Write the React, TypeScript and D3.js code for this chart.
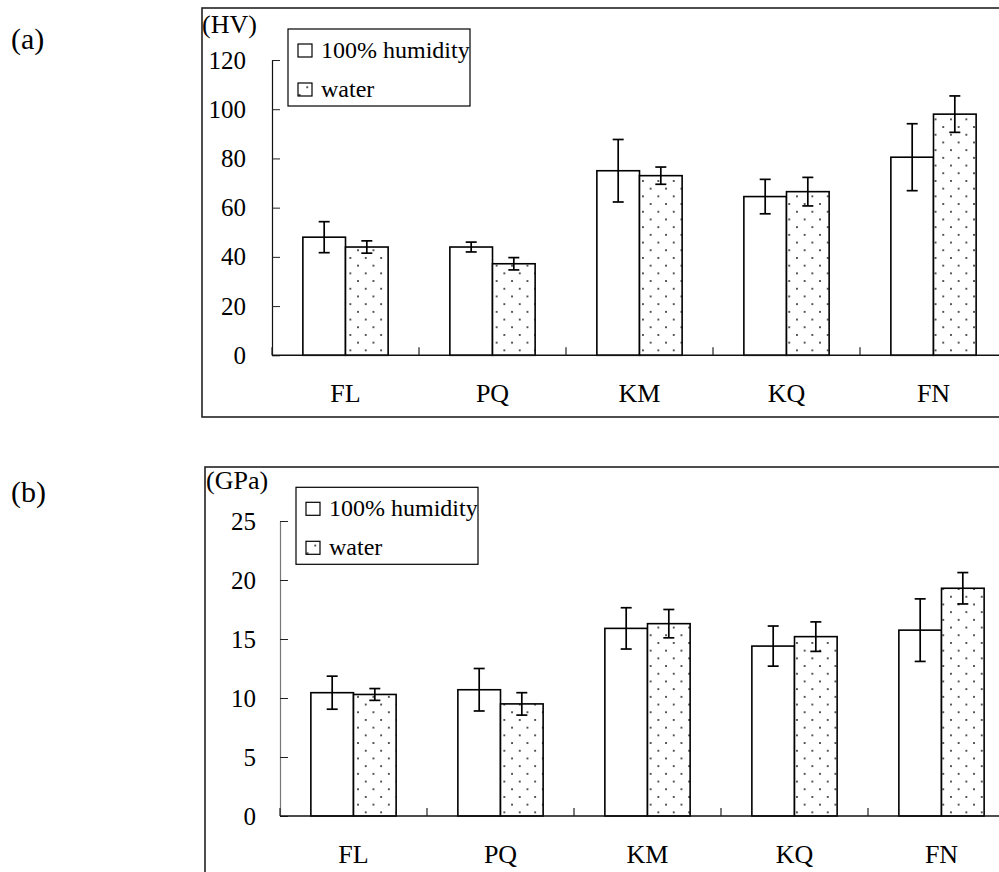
import React, { useRef, useEffect } from "react";
import * as d3 from "d3";

// categories + series
const categories = ["FL", "PQ", "KM", "KQ", "FN"];
const seriesNames = ["100% humidity", "water"];

// (a) hardness, HV
const hvHumidity = [48, 44, 75, 64.5, 80.5];
const hvHumidityErr = [6.3, 2, 12.7, 7, 13.6];
const hvWater = [44, 37.2, 73, 66.5, 98];
const hvWaterErr = [2.5, 2.5, 3.5, 5.8, 7.4];
const hvTicks = [0, 20, 40, 60, 80, 100, 120];

// (b) modulus, GPa
const gpaHumidity = [10.45, 10.7, 15.9, 14.4, 15.75];
const gpaHumidityErr = [1.4, 1.8, 1.75, 1.7, 2.65];
const gpaWater = [10.3, 9.5, 16.3, 15.2, 19.3];
const gpaWaterErr = [0.5, 0.95, 1.2, 1.25, 1.33];
const gpaTicks = [0, 5, 10, 15, 20, 25];

const FONT = "'Liberation Serif', 'Times New Roman', serif";

function App() {
    const svgRef = useRef<SVGSVGElement>(null);

    useEffect(() => {
        const svg = d3.select(svgRef.current);
        svg.selectAll("*").remove();

        // dotted fill like the old excel 5% pattern
        const pat = svg.append("defs").append("pattern")
            .attr("id", "dots")
            .attr("patternUnits", "userSpaceOnUse")
            .attr("width", 15.4)
            .attr("height", 15.4);
        pat.append("rect").attr("width", 15.4).attr("height", 15.4).attr("fill", "#fff");
        pat.append("rect").attr("x", 3).attr("y", 3).attr("width", 1.7).attr("height", 1.7).attr("fill", "#222");
        pat.append("rect").attr("x", 10.7).attr("y", 10.7).attr("width", 1.7).attr("height", 1.7).attr("fill", "#222");

        const panels = [
            {
                tag: "(a)", tagY: 49, unit: "(HV)", unitX: 202, unitY: 33,
                hum: hvHumidity, humErr: hvHumidityErr, wat: hvWater, watErr: hvWaterErr,
                ticks: hvTicks, max: 120,
                frameX: 202, frameY: 8, frameB: 417,
                axisX: 272, y0: 355.3, yTop: 60, pad: 26, axisColor: "#111",
                legX: 288, legY: 29
            },
            {
                tag: "(b)", tagY: 502, unit: "(GPa)", unitX: 206, unitY: 489,
                hum: gpaHumidity, humErr: gpaHumidityErr, wat: gpaWater, watErr: gpaWaterErr,
                ticks: gpaTicks, max: 25,
                frameX: 205, frameY: 467, frameB: 990,
                axisX: 280, y0: 816, yTop: 521, pad: 24, axisColor: "#777",
                legX: 296, legY: 487.3
            }
        ];

        const step = 147;

        panels.forEach(p => {
            const g = svg.append("g");

            // outer frame (runs off the right edge of the picture)
            g.append("rect")
                .attr("x", p.frameX).attr("y", p.frameY)
                .attr("width", 900).attr("height", p.frameB - p.frameY)
                .attr("fill", "none").attr("stroke", "#222").attr("stroke-width", 1.6);

            g.append("text")
                .attr("x", 11).attr("y", p.tagY)
                .style("font-family", FONT).style("font-size", "30px")
                .text(p.tag);

            const y = d3.scaleLinear().domain([0, p.max]).range([p.y0, p.yTop]);
            const x = d3.scaleBand()
                .domain(categories)
                .range([p.axisX, p.axisX + step * categories.length])
                .paddingInner(0.42)
                .paddingOuter(0.21);
            const inner = d3.scaleBand().domain(seriesNames).range([0, x.bandwidth()]);
            const bounds = d3.scaleLinear().domain([0, categories.length]).range(x.range());

            // y axis, ticks point inward
            const yAxis = g.append("g")
                .attr("transform", `translate(${p.axisX},0)`)
                .call(d3.axisLeft(y).tickValues(p.ticks).tickSizeInner(-8).tickSizeOuter(0).tickPadding(p.pad));
            yAxis.select(".domain").attr("stroke", p.axisColor).attr("stroke-width", 1.2);
            yAxis.selectAll(".tick line").attr("stroke", "#222");
            yAxis.selectAll("text")
                .attr("fill", "#000")
                .style("font-family", FONT).style("font-size", "25px");

            g.append("text")
                .attr("x", p.unitX).attr("y", p.unitY)
                .style("font-family", FONT).style("font-size", "26px")
                .text(p.unit);

            // bars
            const rows = categories.map((c, i) => [
                { cat: c, s: seriesNames[0], v: p.hum[i], e: p.humErr[i] },
                { cat: c, s: seriesNames[1], v: p.wat[i], e: p.watErr[i] }
            ]).flat();

            g.selectAll(".bar")
                .data(rows)
                .join("rect")
                .attr("class", "bar")
                .attr("x", d => x(d.cat) + inner(d.s))
                .attr("y", d => y(d.v))
                .attr("width", inner.bandwidth())
                .attr("height", d => y(0) - y(d.v))
                .attr("fill", d => d.s === "water" ? "url(#dots)" : "#fff")
                .attr("stroke", "#000")
                .attr("stroke-width", 1.6);

            // error bars
            const eb = g.selectAll(".err")
                .data(rows)
                .join("g")
                .attr("class", "err")
                .attr("transform", d => `translate(${x(d.cat) + inner(d.s) + inner.bandwidth() / 2},0)`)
                .attr("stroke", "#000")
                .attr("stroke-width", 1.7);
            eb.append("line")
                .attr("y1", d => y(d.v + d.e)).attr("y2", d => y(d.v - d.e));
            eb.append("line")
                .attr("x1", -5.5).attr("x2", 5.5)
                .attr("y1", d => y(d.v + d.e)).attr("y2", d => y(d.v + d.e));
            eb.append("line")
                .attr("x1", -5.5).attr("x2", 5.5)
                .attr("y1", d => y(d.v - d.e)).attr("y2", d => y(d.v - d.e));

            // x axis line + boundary ticks
            g.append("line")
                .attr("x1", p.axisX).attr("x2", bounds(categories.length))
                .attr("y1", y(0)).attr("y2", y(0))
                .attr("stroke", "#111").attr("stroke-width", 1.4);
            g.selectAll(".xt")
                .data(d3.range(categories.length + 1))
                .join("line")
                .attr("class", "xt")
                .attr("x1", d => bounds(d)).attr("x2", d => bounds(d))
                .attr("y1", y(0)).attr("y2", y(0) - 8)
                .attr("stroke", "#222").attr("stroke-width", 1.2);

            g.selectAll(".xl")
                .data(categories)
                .join("text")
                .attr("class", "xl")
                .attr("x", d => x(d) + x.bandwidth() / 2)
                .attr("y", y(0) + 47)
                .attr("text-anchor", "middle")
                .style("font-family", FONT).style("font-size", "26px")
                .text(d => d);

            // legend
            const leg = g.append("g").attr("transform", `translate(${p.legX},${p.legY})`);
            leg.append("rect")
                .attr("width", 182).attr("height", 77)
                .attr("fill", "#fff").attr("stroke", "#000").attr("stroke-width", 1.2);
            const items = leg.selectAll(".li")
                .data(seriesNames)
                .join("g")
                .attr("class", "li")
                .attr("transform", (d, i) => `translate(0,${i * 39})`);
            items.append("rect")
                .attr("x", 10).attr("y", 15)
                .attr("width", 14).attr("height", 13)
                .attr("fill", d => d === "water" ? "url(#dots)" : "#fff")
                .attr("stroke", "#000").attr("stroke-width", 1.2);
            items.append("text")
                .attr("x", 33).attr("y", 29)
                .style("font-family", FONT).style("font-size", "24px")
                .text(d => d);
        });
    }, []);

    return (
        <svg ref={svgRef} width={999} height={872}
            style={{ position: "absolute", left: 0, top: 0, background: "#fff" }} />
    );
}

export default App;
